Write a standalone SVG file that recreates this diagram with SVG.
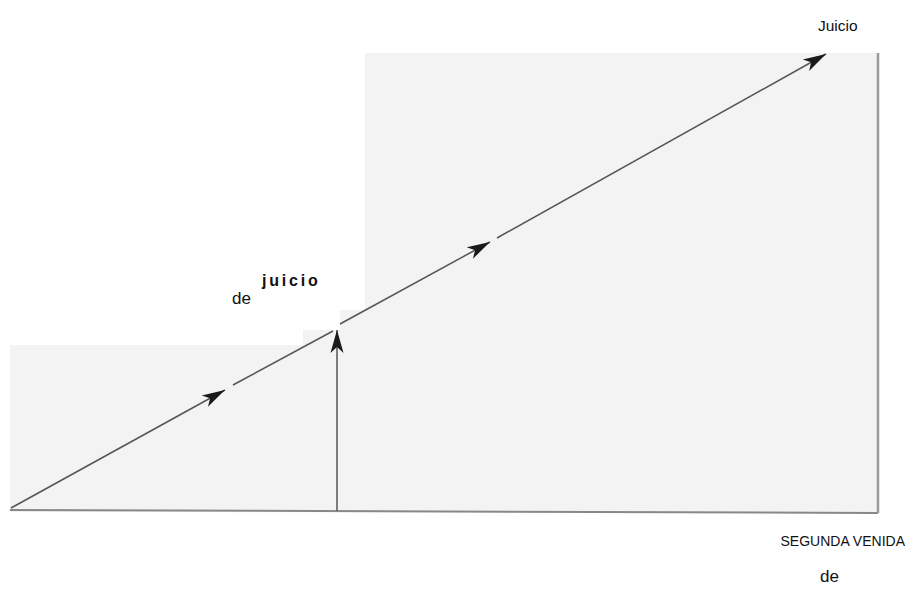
<svg xmlns="http://www.w3.org/2000/svg" width="907" height="608" viewBox="0 0 907 608">
<style>
.t{font-family:"Liberation Sans",Arial,sans-serif;fill:#111}
.ln{stroke:#555;stroke-width:1.5;fill:none}
</style>
<defs>
<marker id="ah" markerUnits="userSpaceOnUse" markerWidth="24" markerHeight="16" viewBox="0 0 24 16" refX="23" refY="8" orient="auto">
<path d="M0,1.5 L23,8 L0,14.5 L6,8 Z" fill="#1a1a1a"/>
</marker>
</defs>
<rect width="907" height="608" fill="#fff"/>
<g id="background">
<polygon points="10,345 303,345 303,330 340,330 340,310 365,310 365,53 878,53 878,513 10,512" fill="#f3f3f3"/>
</g>
<g id="connectors">
<line x1="10" y1="510" x2="878" y2="513" stroke="#888" stroke-width="2"/>
<line x1="878" y1="53" x2="878" y2="513" stroke="#999" stroke-width="2.5"/>
<line class="ln" x1="11" y1="508" x2="225" y2="390" marker-end="url(#ah)"/>
<line class="ln" x1="233" y1="385" x2="333" y2="331"/>
<line class="ln" x1="340" y1="324" x2="490" y2="242" marker-end="url(#ah)"/>
<line class="ln" x1="497" y1="238" x2="826" y2="54" marker-end="url(#ah)"/>
<line class="ln" x1="337" y1="511" x2="337" y2="330" marker-end="url(#ah)"/>
</g>
<g id="label-juicio-top"><text class="t" x="818" y="31" font-size="15.5">Juicio</text></g>
<g id="label-juicio-mid"><text class="t" x="262" y="286" font-size="16" font-weight="bold" letter-spacing="2.8">juicio</text></g>
<g id="label-de-mid"><text class="t" x="232" y="304" font-size="17">de</text></g>
<g id="label-segunda"><text class="t" x="905" y="546" font-size="14" text-anchor="end">SEGUNDA VENIDA</text></g>
<g id="label-de-bottom"><text class="t" x="820" y="582" font-size="17">de</text></g>
</svg>
